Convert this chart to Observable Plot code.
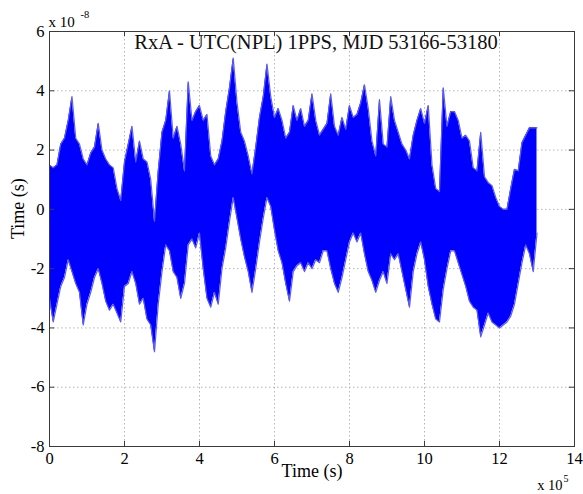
<!DOCTYPE html>
<html><head><meta charset="utf-8">
<script src="https://cdn.jsdelivr.net/npm/d3@7"></script>
<script src="https://cdn.jsdelivr.net/npm/@observablehq/plot@0.6"></script>
<style>body{margin:0;background:#fff;} #chart svg{display:block;}</style>
</head><body><div id="chart"></div>
<script>
// Time, in units of 10^5 s
const times = [0.0,0.1,0.2,0.3,0.4,0.5,0.6,0.7,0.8,0.9,1.0,1.1,1.2,1.3,1.4,1.5,1.6,1.7,1.8,1.9,
2.0,2.1,2.2,2.3,2.4,2.5,2.6,2.7,2.8,2.9,3.0,3.1,3.2,3.3,3.4,3.5,3.6,3.7,3.8,3.9,
4.0,4.1,4.2,4.3,4.4,4.5,4.6,4.7,4.8,4.9,5.0,5.1,5.2,5.3,5.4,5.5,5.6,5.7,5.8,5.9,
6.0,6.1,6.2,6.3,6.4,6.5,6.6,6.7,6.8,6.9,7.0,7.1,7.2,7.3,7.4,7.5,7.6,7.7,7.8,7.9,
8.0,8.1,8.2,8.3,8.4,8.5,8.6,8.7,8.8,8.9,9.0,9.1,9.2,9.3,9.4,9.5,9.6,9.7,9.8,9.9,
10.0,10.1,10.2,10.3,10.4,10.5,10.6,10.7,10.8,10.9,11.0,11.1,11.2,11.3,11.4,11.5,11.6,11.7,11.8,11.9,
12.0,12.1,12.2,12.3,12.4,12.5,12.6,12.7,12.8,12.9,13.0];
// Upper envelope of the 1PPS time difference (units of 10^-8 s)
const upper = [1.5,1.4,1.5,2.2,2.4,3.0,3.8,2.4,2.2,1.7,1.5,1.9,2.1,2.9,2.0,1.7,1.5,1.4,0.7,0.3,
1.6,2.2,2.8,1.6,2.3,1.7,1.6,1.0,-0.4,1.3,2.6,3.0,4.0,2.4,2.8,2.2,1.3,4.3,3.0,3.3,
3.5,3.0,3.2,1.8,1.5,1.7,2.3,3.3,4.1,5.1,3.6,2.6,2.3,1.8,1.2,2.1,3.1,3.8,4.9,3.8,
3.1,3.4,3.0,2.4,2.6,3.5,3.0,3.4,2.8,3.0,3.9,3.0,2.5,2.7,2.9,3.9,2.8,2.5,3.1,2.7,
3.5,3.1,3.2,3.6,4.2,3.4,2.3,1.8,3.7,2.2,2.1,3.8,3.0,2.6,2.2,2.0,1.7,2.5,3.0,3.4,
2.9,3.5,1.5,0.7,0.6,4.1,2.8,3.3,3.3,3.0,2.4,2.5,2.3,1.4,1.3,2.6,1.1,0.9,0.8,0.4,
0.1,0.0,0.0,0.7,1.35,1.3,2.25,2.5,2.75,2.75,2.75];
// Lower envelope (units of 10^-8 s)
const lower = [-3.0,-3.8,-3.2,-2.6,-2.3,-1.7,-2.1,-2.5,-2.8,-3.9,-3.2,-2.8,-2.3,-2.0,-2.5,-3.1,-3.4,-3.2,-3.5,-3.8,
-2.6,-2.5,-2.1,-2.5,-3.2,-3.0,-3.7,-3.9,-4.8,-3.2,-2.1,-1.2,-1.4,-2.1,-2.3,-3.0,-2.5,-1.2,-1.0,-1.3,
-0.8,-2.0,-3.0,-3.3,-2.8,-3.2,-2.0,-1.3,-0.4,0.4,-0.3,-1.0,-1.6,-2.1,-2.8,-2.0,-1.1,-0.3,0.4,0.1,
-0.7,-1.4,-1.8,-2.5,-3.1,-2.1,-1.9,-1.8,-2.1,-1.8,-2.0,-1.7,-1.8,-1.4,-1.4,-2.0,-2.5,-2.8,-2.3,-1.7,
-1.1,-0.8,-1.1,-0.8,-1.5,-2.1,-2.4,-2.8,-2.4,-2.1,-2.5,-1.5,-1.7,-1.5,-2.1,-2.7,-3.3,-2.1,-1.5,-1.1,
-1.7,-2.6,-3.2,-3.7,-3.8,-2.7,-2.0,-1.4,-1.4,-1.8,-2.2,-2.6,-3.1,-3.3,-3.4,-4.3,-3.9,-3.5,-3.8,-3.9,
-4.0,-3.9,-3.8,-3.6,-3.2,-2.5,-1.8,-1.2,-1.5,-2.1,-0.8];
const xTicks = [0,2,4,6,8,10,12,14];
const yTicks = [-8,-6,-4,-2,0,2,4,6];
const title = "RxA - UTC(NPL) 1PPS, MJD 53166-53180";
const xLabel = "Time (s)";
const yLabel = "Time (s)";

const rows = times.map((t, i) => ({t, hi: upper[i], lo: lower[i]}));
const font = "'Liberation Serif', 'Times New Roman', serif";
const axisColor = "#3a3a3a";
const gridStyle = {stroke: "#b5b5b5", strokeOpacity: 1, strokeDasharray: "1.5,2.5"};

const chart = Plot.plot({
  width: 583, height: 494,
  marginLeft: 49, marginRight: 9, marginTop: 31, marginBottom: 48,
  style: {fontFamily: font, fontSize: "16.5px", color: "#000", background: "#fff"},
  x: {domain: [0, 14], ticks: xTicks, label: null, tickSize: 0, tickPadding: 6, tickFormat: d => String(d)},
  y: {domain: [-8, 6], ticks: yTicks, label: null, tickSize: 0, tickPadding: 5, tickFormat: d => String(d)},
  marks: [
    Plot.gridX(xTicks, gridStyle),
    Plot.gridY(yTicks, gridStyle),
    Plot.areaY(rows, {x: "t", y1: "lo", y2: "hi", fill: "#0000ff", curve: "linear"}),
    Plot.line(rows, {x: "t", y: "hi", stroke: "#5a5af0", strokeWidth: 1.2, curve: "linear"}),
    Plot.line(rows, {x: "t", y: "lo", stroke: "#5a5af0", strokeWidth: 1.2, curve: "linear"}),
    Plot.ruleX(xTicks, {x: d => d, y1: -8, y2: -7.83, stroke: axisColor}),
    Plot.ruleX(xTicks, {x: d => d, y1: 6, y2: 5.83, stroke: axisColor}),
    Plot.ruleY(yTicks, {y: d => d, x1: 0, x2: 0.14, stroke: axisColor}),
    Plot.ruleY(yTicks, {y: d => d, x1: 14, x2: 13.86, stroke: axisColor}),
    Plot.frame({stroke: axisColor, strokeWidth: 1}),
    Plot.text([title], {frameAnchor: "top", lineAnchor: "top", dx: 4, dy: 3, fontSize: 20.5, fill: "#111"}),
    Plot.text([xLabel], {frameAnchor: "bottom", lineAnchor: "middle", dy: 25, fontSize: 18}),
    Plot.text([yLabel], {frameAnchor: "left", rotate: -90, dx: -31, fontSize: 18}),
    Plot.text(["x 10"], {frameAnchor: "top-left", textAnchor: "start", lineAnchor: "bottom", dx: -1, dy: -5, fontSize: 15}),
    Plot.text(["-8"], {frameAnchor: "top-left", textAnchor: "start", lineAnchor: "bottom", dx: 31, dy: -14, fontSize: 10.5}),
    Plot.text(["x 10"], {frameAnchor: "bottom-right", textAnchor: "end", lineAnchor: "bottom", dx: -12, dy: 43, fontSize: 14.5}),
    Plot.text(["5"], {frameAnchor: "bottom-right", textAnchor: "start", lineAnchor: "bottom", dx: -11, dy: 35, fontSize: 10})
  ]
});
document.getElementById("chart").appendChild(chart);
</script>
</body></html>
